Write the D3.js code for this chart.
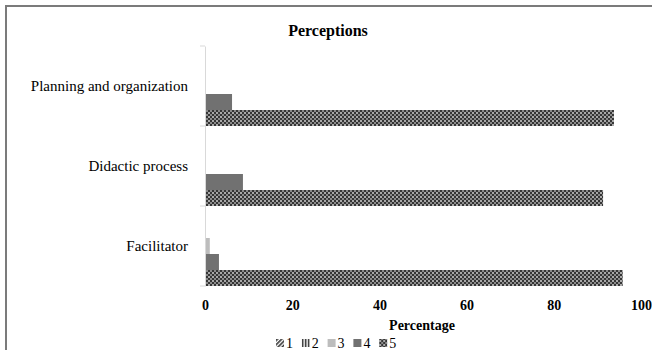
<!DOCTYPE html>
<html>
<head>
<meta charset="utf-8">
<script src="https://cdn.jsdelivr.net/npm/d3@7"></script>
<style>
  html, body { margin: 0; padding: 0; background: #fff; }
  svg { display: block; }
  text { font-family: "Liberation Serif", "Times New Roman", serif; fill: #000; }
</style>
</head>
<body>
<div id="chart"></div>
<script>
// ---- data ----
const categories = ["Planning and organization", "Didactic process", "Facilitator"];
const seriesNames = ["1", "2", "3", "4", "5"];
const values1 = [0, 0, 0];
const values2 = [0, 0, 0];
const values3 = [0, 0, 1.1];
const values4 = [6.2, 8.7, 3.2];
const values5 = [93.8, 91.3, 95.8];
const xTicks = [0, 20, 40, 60, 80, 100];
const titleText = "Perceptions";
const xTitle = "Percentage";

const seriesValues = [values1, values2, values3, values4, values5];

const W = 652, H = 350;
const svg = d3.select("#chart").append("svg").attr("width", W).attr("height", H);

// ---- patterns ----
const defs = svg.append("defs");
// series 1: diagonal stripes
const p1 = defs.append("pattern").attr("id", "pat1").attr("patternUnits", "userSpaceOnUse")
  .attr("width", 3).attr("height", 3).attr("patternTransform", "rotate(45)");
p1.append("rect").attr("width", 3).attr("height", 3).attr("fill", "#fff");
p1.append("rect").attr("width", 1.6).attr("height", 3).attr("fill", "#333");
// series 2: vertical dashes
const p2 = defs.append("pattern").attr("id", "pat2").attr("patternUnits", "userSpaceOnUse")
  .attr("width", 3).attr("height", 4);
p2.append("rect").attr("width", 3).attr("height", 4).attr("fill", "#fff");
p2.append("rect").attr("width", 1.6).attr("height", 4).attr("fill", "#333");
// series 5: small checkerboard
const p5 = defs.append("pattern").attr("id", "pat5").attr("patternUnits", "userSpaceOnUse")
  .attr("width", 4).attr("height", 4);
p5.append("rect").attr("width", 4).attr("height", 4).attr("fill", "#353535");
p5.append("rect").attr("x", 0).attr("y", 0).attr("width", 2).attr("height", 2).attr("fill", "#a8a8a8");
p5.append("rect").attr("x", 2).attr("y", 2).attr("width", 2).attr("height", 2).attr("fill", "#8a8a8a");

const fills = ["url(#pat1)", "url(#pat2)", "#bdbdbd", "#717171", "url(#pat5)"];

// ---- frame ----
svg.append("rect").attr("x", 6).attr("y", 6).attr("width", 720).attr("height", 420)
  .attr("fill", "none").attr("stroke", "#7b7b7b").attr("stroke-width", 2);

// ---- scales ----
const x = d3.scaleLinear().domain([0, 100]).range([205, 641]);
const y = d3.scaleBand().domain(categories).range([46, 286]).padding(0);
const ys = d3.scaleBand().domain(seriesNames).range([0, y.bandwidth()]).padding(0);

// ---- title ----
svg.append("text").attr("x", 328).attr("y", 36).attr("text-anchor", "middle")
  .attr("font-size", 16).attr("font-weight", "bold").text(titleText);

// ---- bars ----
const rows = [];
categories.forEach((c, ci) => {
  seriesNames.forEach((s, si) => {
    rows.push({ cat: c, ser: s, si: si, v: seriesValues[si][ci] });
  });
});
svg.append("g").selectAll("rect").data(rows.filter(d => d.v > 0)).join("rect")
  .attr("x", x(0))
  .attr("y", d => y(d.cat) + ys(d.ser))
  .attr("width", d => x(d.v) - x(0))
  .attr("height", ys.bandwidth())
  .attr("fill", d => fills[d.si]);

// ---- y axis ----
const yAxis = svg.append("g").attr("transform", `translate(${x(0)},0)`)
  .call(d3.axisLeft(y).tickSize(0).tickPadding(17));
yAxis.select(".domain").attr("stroke", "#d9d9d9");
yAxis.selectAll("text").attr("font-size", 15).attr("font-family", "Liberation Serif");
// boundary ticks
const bounds = [y.range()[0]].concat(categories.map(c => y(c) + y.bandwidth()));
svg.append("g").selectAll("line").data(bounds).join("line")
  .attr("x1", x(0) - 5).attr("x2", x(0)).attr("y1", d => d).attr("y2", d => d)
  .attr("stroke", "#d9d9d9");

// ---- x axis ----
const xAxis = svg.append("g").attr("transform", `translate(0,${y.range()[1]})`)
  .call(d3.axisBottom(x).tickValues(xTicks).tickSize(0).tickPadding(14));
xAxis.select(".domain").remove();
xAxis.selectAll("text").attr("font-size", 14).attr("font-weight", "bold").attr("font-family", "Liberation Serif");

svg.append("text").attr("x", (x(0) + x(100)) / 2 - 1).attr("y", 330).attr("text-anchor", "middle")
  .attr("font-size", 14).attr("font-weight", "bold").text(xTitle);

// ---- legend ----
const legend = svg.append("g").attr("transform", "translate(276,0)");
const li = legend.selectAll("g").data(seriesNames).join("g")
  .attr("transform", (d, i) => `translate(${i * 25.8},0)`);
li.append("rect").attr("x", 0).attr("y", 339).attr("width", 8).attr("height", 8)
  .attr("fill", (d, i) => fills[i]);
li.append("text").attr("x", 10).attr("y", 348).attr("font-size", 14).text(d => d);
</script>
</body>
</html>
